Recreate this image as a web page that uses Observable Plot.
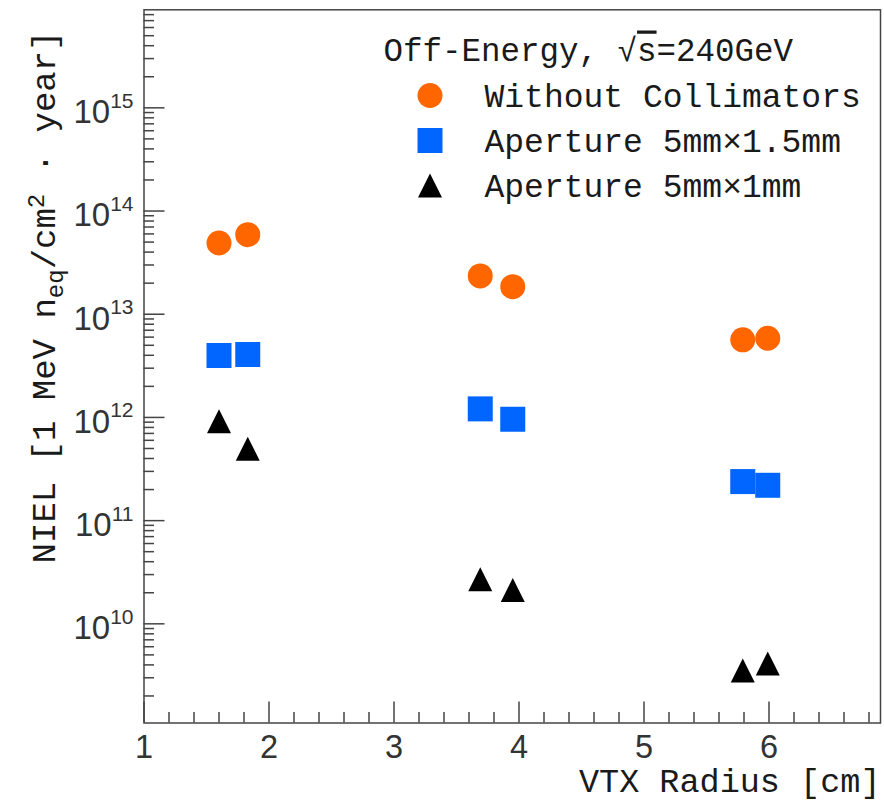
<!DOCTYPE html>
<html>
<head>
<meta charset="utf-8">
<script src="https://cdn.jsdelivr.net/npm/d3@7"></script>
<script src="https://cdn.jsdelivr.net/npm/@observablehq/plot@0.6"></script>
<style>
  html, body { margin: 0; padding: 0; background: #fff; }
  #chart svg { display: block; }
</style>
</head>
<body>
<div id="chart"></div>
<script>
// Radius of each vertex-detector layer (cm)
const radius = [1.6, 1.83, 3.69, 3.95, 5.79, 5.99];

// NIEL dose per layer, 1 MeV n_eq / cm^2 / year
const nielNoCollimator = [4.9e13, 5.9e13, 2.35e13, 1.85e13, 5.65e12, 5.85e12];
const nielAperture15  = [3.98e12, 4.07e12, 1.21e12, 9.6e11, 2.39e11, 2.2e11];
const nielAperture10  = [9.2e11, 4.97e11, 2.7e10, 2.13e10, 3.53e9, 4.12e9];

const seriesNames   = ["Without Collimators", "Aperture 5mm×1.5mm", "Aperture 5mm×1mm"];
const seriesValues  = [nielNoCollimator, nielAperture15, nielAperture10];
const seriesColors  = ["#ff6600", "#0066ff", "#000000"];
const seriesShapes  = ["circle", "square", "triangle"];

const legendTitle = "Off-Energy, √~{s}=240GeV";
const xLabel = "VTX Radius [cm]";
const yLabel = "NIEL [1 MeV n_{eq}/cm^{2} · year]";

const xMajorTicks = [1, 2, 3, 4, 5, 6];
const yExponents  = [10, 11, 12, 13, 14, 15];

// Layout
const W = 884, H = 802;
const mL = 143.5, mR = 4, mT = 9.3, mB = 79.5;
const plotW = W - mL - mR, plotH = H - mT - mB;
const xDomain = [1, 6.892];
const yDomain = [1.094e9, 8.91e15];

const yMajorTicks = yExponents.map(e => 10 ** e);
const yMinorTicks = d3.range(9, 16).flatMap(e => d3.range(2, 10).map(m => m * 10 ** e))
  .filter(v => v >= yDomain[0] && v <= yDomain[1]);
const xMinorTicks = d3.range(6, 35).map(k => k / 5).filter(v => v <= xDomain[1] && !xMajorTicks.includes(v));

// Marker shapes whose half-size equals the dot radius
const shapes = {
  circle: {draw(ctx, size) { const r = Math.sqrt(size / Math.PI); ctx.moveTo(r, 0); ctx.arc(0, 0, r, 0, 2 * Math.PI); }},
  square: {draw(ctx, size) { const r = Math.sqrt(size / Math.PI); ctx.rect(-r, -r, 2 * r, 2 * r); }},
  triangle: {draw(ctx, size) { const r = Math.sqrt(size / Math.PI); ctx.moveTo(0, -r); ctx.lineTo(r, r); ctx.lineTo(-r, r); ctx.closePath(); }}
};
const shapeRadius = {circle: 12.5, square: 12.5, triangle: 12};

const rows = seriesNames.flatMap((name, si) =>
  radius.map((x, i) => ({x, y: seriesValues[si][i], series: name})));

const mono = "'Courier New', 'Liberation Mono', monospace";
const sans = "'Liberation Sans', Arial, sans-serif";
const ink = "#1a1a1a";
const axisInk = "#444";

const marks = [];

// Ticks drawn inward from the frame
marks.push(Plot.tickX(xMajorTicks, {x: d => d, insetTop: plotH - 21, stroke: axisInk, strokeWidth: 1.5}));
marks.push(Plot.tickX(xMinorTicks, {x: d => d, insetTop: plotH - 10.5, stroke: axisInk, strokeWidth: 1.5}));
marks.push(Plot.tickY(yMajorTicks, {y: d => d, insetRight: plotW - 21, stroke: axisInk, strokeWidth: 1.5}));
marks.push(Plot.tickY(yMinorTicks, {y: d => d, insetRight: plotW - 10.5, stroke: axisInk, strokeWidth: 1.5}));

// Tick labels
marks.push(Plot.text(xMajorTicks, {
  x: d => d, text: d => String(d), frameAnchor: "bottom", dy: 35, lineAnchor: "bottom",
  fontFamily: sans, fontSize: 32.5, fill: "#333"
}));
marks.push(Plot.text(yExponents, {
  y: d => 10 ** d, text: d => `10^{${d}}`, frameAnchor: "left", dx: -10.5, dy: 15.4,
  textAnchor: "end", lineAnchor: "bottom", fontFamily: sans, fontSize: 33, fill: "#333",
  ariaLabel: () => "y-tick-label"
}));

// Axis titles
marks.push(Plot.text([xLabel], {
  text: d => d, frameAnchor: "bottom-right", dy: 69, textAnchor: "end", lineAnchor: "bottom",
  fontFamily: mono, fontSize: 33.5, fill: ink
}));
marks.push(Plot.text([yLabel], {
  text: d => d, frameAnchor: "top-left", dx: 54 - mL, dy: 30 - mT, rotate: -90,
  textAnchor: "end", lineAnchor: "bottom", fontFamily: mono, fontSize: 34, fill: ink,
  ariaLabel: () => "y-title"
}));

// Data points
seriesNames.forEach((name, si) => {
  marks.push(Plot.dot(rows.filter(d => d.series === name), {
    x: "x", y: "y", symbol: shapes[seriesShapes[si]], r: shapeRadius[seriesShapes[si]],
    fill: seriesColors[si], stroke: "none"
  }));
});

// Legend
const legendSymbolX = 429.5 - mL, legendTextX = 484 - mL, legendTop = 95 - mT, legendStep = 45;
marks.push(Plot.text([legendTitle], {
  text: d => d, frameAnchor: "top-left", dx: 383 - mL, dy: 60 - mT, textAnchor: "start",
  lineAnchor: "bottom", fontFamily: mono, fontSize: 32.5, fill: ink, ariaLabel: () => "legend-title"
}));
seriesNames.forEach((name, si) => {
  marks.push(Plot.dot([name], {
    frameAnchor: "top-left", dx: legendSymbolX, dy: legendTop + si * legendStep,
    symbol: shapes[seriesShapes[si]], r: shapeRadius[seriesShapes[si]], fill: seriesColors[si], stroke: "none"
  }));
  marks.push(Plot.text([name], {
    text: d => d, frameAnchor: "top-left", dx: legendTextX, dy: legendTop + si * legendStep + 11,
    textAnchor: "start", lineAnchor: "bottom", fontFamily: mono, fontSize: 33, fill: ink
  }));
});

marks.push(Plot.frame({stroke: axisInk, strokeWidth: 1.5}));

const svg = Plot.plot({
  width: W, height: H,
  marginLeft: mL, marginRight: mR, marginTop: mT, marginBottom: mB,
  style: {background: "#fff", overflow: "visible"},
  x: {type: "linear", domain: xDomain, axis: null},
  y: {type: "log", domain: yDomain, axis: null},
  marks
});

// Render a small markup: _{sub}, ^{sup}, ~{overline}
function richText(node, markup, {small, sub, sup}) {
  const re = /([_^~])\{([^}]*)\}/g;
  node.textContent = "";
  let last = 0, reset = 0, m;
  const add = (txt, attrs) => {
    const t = document.createElementNS("http://www.w3.org/2000/svg", "tspan");
    t.textContent = txt;
    for (const k in attrs) t.setAttribute(k, attrs[k]);
    node.appendChild(t);
  };
  while ((m = re.exec(markup))) {
    if (m.index > last) { add(markup.slice(last, m.index), reset ? {dy: reset} : {}); reset = 0; }
    if (m[1] === "~") {
      add(m[2], Object.assign({"text-decoration": "overline"}, reset ? {dy: reset} : {}));
      reset = 0;
    } else {
      const shift = m[1] === "_" ? sub : -sup;
      add(m[2], {dy: shift + reset, "font-size": small});
      reset = -shift;
    }
    last = re.lastIndex;
  }
  if (last < markup.length) add(markup.slice(last), reset ? {dy: reset} : {});
}

// Apply markup to every text that still carries it
d3.select(svg).selectAll("text").each(function () {
  const s = this.textContent;
  if (!/[_^~]\{/.test(s)) return;
  const label = this.getAttribute("aria-label") || "";
  if (label === "y-title") richText(this, s, {small: 24, sub: 8, sup: 11});
  else if (label === "legend-title") richText(this, s, {small: 24, sub: 0, sup: 0});
  else richText(this, s, {small: 21, sub: 0, sup: 15.4});
  this.removeAttribute("aria-label");
});

document.getElementById("chart").appendChild(svg);
</script>
</body>
</html>
